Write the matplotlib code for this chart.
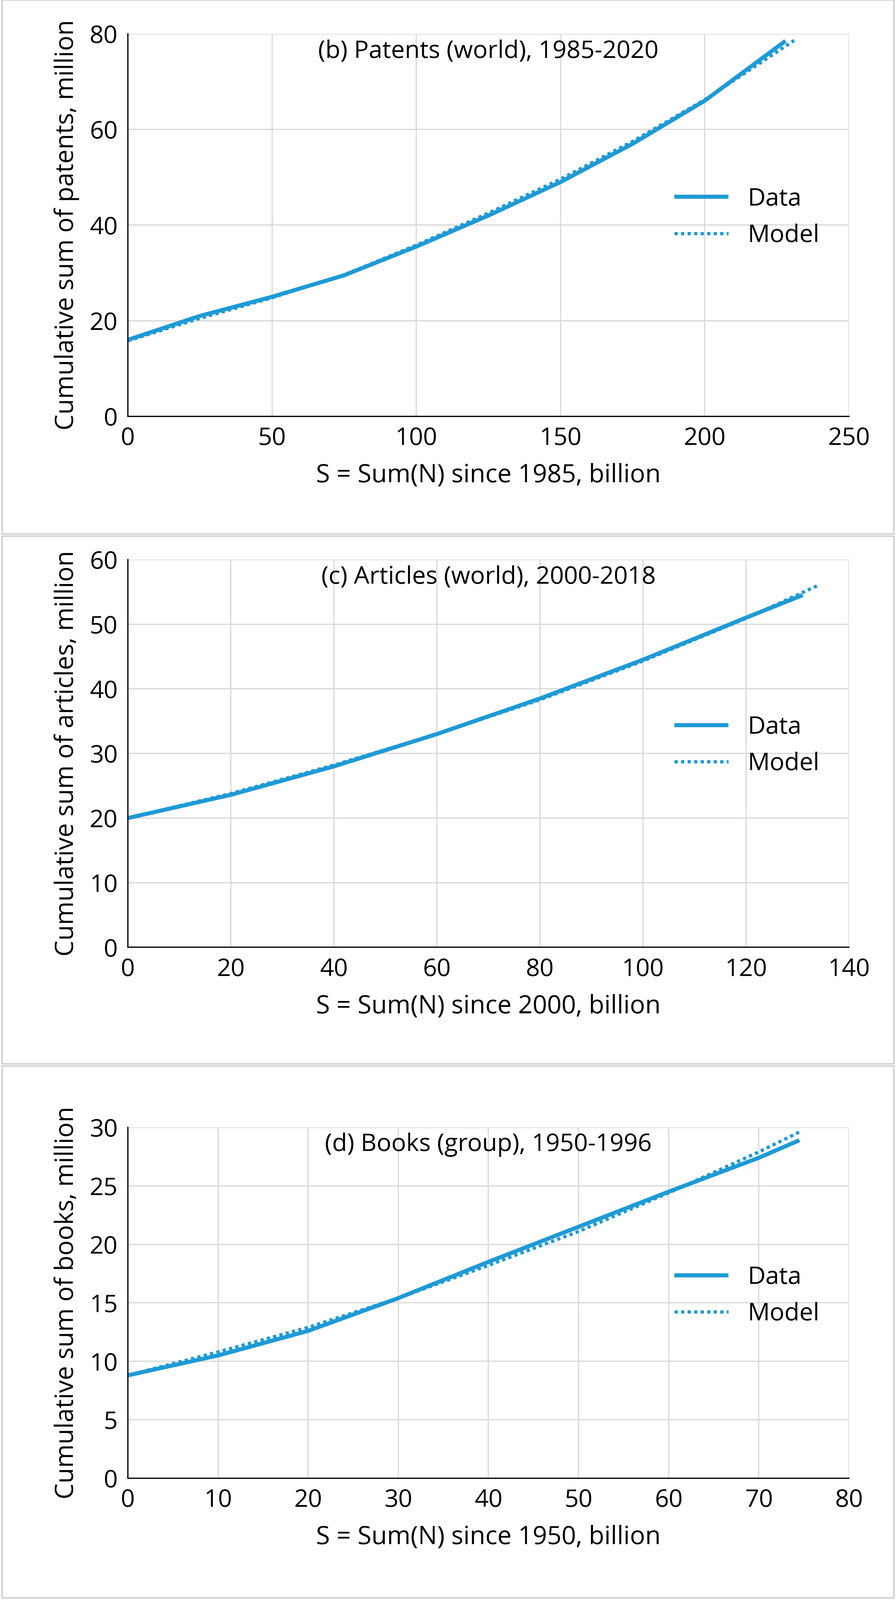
import matplotlib
matplotlib.use("Agg")
import matplotlib.pyplot as plt
from matplotlib.patches import Rectangle

plt.rcParams["font.family"] = "Open Sans"

# Panel (b) patents
pat_data_x = [0, 25, 50, 75, 100, 125, 150, 175, 200, 228]
pat_data_y = [16, 21, 25, 29.5, 35.5, 42, 49, 57, 66, 78.5]
pat_model_x = [0, 25, 50, 75, 100, 125, 150, 175, 200, 231]
pat_model_y = [15.8, 20.5, 24.8, 29.6, 35.8, 42.5, 49.6, 57.5, 66.2, 78.6]
# Panel (c) articles
art_data_x = [0, 20, 40, 60, 80, 100, 120, 131]
art_data_y = [20, 23.6, 28, 33, 38.5, 44.5, 51, 54.5]
art_model_x = [0, 20, 40, 60, 80, 100, 120, 134]
art_model_y = [20, 23.8, 28.2, 33, 38.3, 44.3, 50.9, 56]
# Panel (d) books
bk_data_x = [0, 10, 20, 30, 40, 50, 60, 70, 74.5]
bk_data_y = [8.8, 10.5, 12.6, 15.4, 18.5, 21.5, 24.5, 27.4, 28.9]
bk_model_x = [0, 10, 20, 30, 40, 50, 60, 70, 74.5]
bk_model_y = [8.8, 10.8, 12.9, 15.4, 18.2, 21.1, 24.4, 27.9, 29.6]

panels = [
    dict(dx=pat_data_x, dy=pat_data_y, mx=pat_model_x, my=pat_model_y,
         xlim=(0, 250), xt=range(0, 251, 50), ylim=(0, 80), yt=range(0, 81, 20),
         title="(b) Patents (world), 1985-2020",
         ylabel="Cumulative sum of patents, million",
         xlabel="S = Sum(N) since 1985, billion",
         box=(0, 522), ax=(33, 407)),
    dict(dx=art_data_x, dy=art_data_y, mx=art_model_x, my=art_model_y,
         xlim=(0, 140), xt=range(0, 141, 20), ylim=(0, 60), yt=range(0, 61, 10),
         title="(c) Articles (world), 2000-2018",
         ylabel="Cumulative sum of articles, million",
         xlabel="S = Sum(N) since 2000, billion",
         box=(524, 1040), ax=(547, 926)),
    dict(dx=bk_data_x, dy=bk_data_y, mx=bk_model_x, my=bk_model_y,
         xlim=(0, 80), xt=range(0, 81, 10), ylim=(0, 30), yt=range(0, 31, 5),
         title="(d) Books (group), 1950-1996",
         ylabel="Cumulative sum of books, million",
         xlabel="S = Sum(N) since 1950, billion",
         box=(1042, 1562), ax=(1102, 1445)),
]

W, H = 876.0, 1564.0
fig = plt.figure(figsize=(30.48, 54.41), dpi=100)
col = "#1e9ad6"
for p in panels:
    b0, b1 = p["box"]
    fig.patches.append(Rectangle((2 / W, 1 - b1 / H), 872 / W, (b1 - b0) / H,
                                 transform=fig.transFigure, fill=False,
                                 edgecolor="#c8c8c8", lw=3))
    a0, a1 = p["ax"]
    ax = fig.add_axes([125 / W, 1 - a1 / H, (830 - 125) / W, (a1 - a0) / H])
    ax.plot(p["dx"], p["dy"], color=col, lw=10, label="Data", solid_capstyle="butt")
    ax.plot(p["mx"], p["my"], color=col, lw=8, ls=(0, (1, 1)), label="Model")
    ax.set_xlim(*p["xlim"]); ax.set_ylim(*p["ylim"])
    ax.set_xticks(list(p["xt"])); ax.set_yticks(list(p["yt"]))
    ax.grid(True, color="#d9d9d9", lw=3)
    ax.set_axisbelow(True)
    for s in ["top", "right"]:
        ax.spines[s].set_visible(False)
    for s in ["left", "bottom"]:
        ax.spines[s].set_color("#000000"); ax.spines[s].set_linewidth(3)
    ax.tick_params(labelsize=60, length=0, pad=25)
    ax.set_xlabel(p["xlabel"], fontsize=62, labelpad=30)
    ax.set_ylabel(p["ylabel"], fontsize=62, labelpad=25)
    ax.text(0.5, 0.985, p["title"], transform=ax.transAxes, ha="center", va="top", fontsize=60)
    ax.legend(loc="center right", bbox_to_anchor=(0.99, 0.52), frameon=False,
              fontsize=60, handlelength=2.2)
fig.savefig("out.png", dpi=100)
